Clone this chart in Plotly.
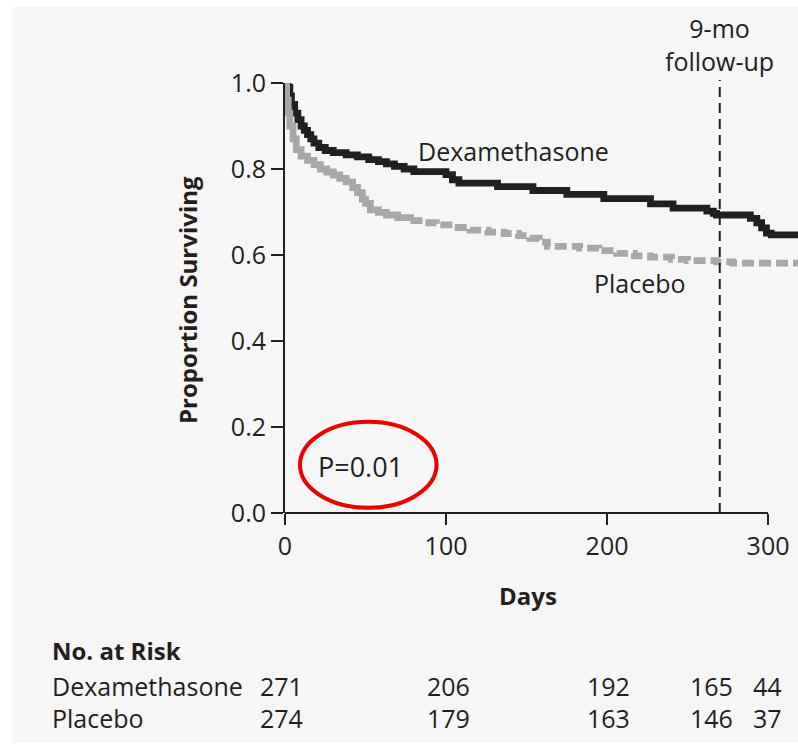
import plotly.graph_objects as go

# ---------------- data ----------------
dexa_days = [0, 2, 3, 4, 6, 8, 10, 12, 14, 16, 18, 21, 25, 30, 38, 45, 52, 58, 63, 68, 74, 80,
             100, 104, 108, 132, 154, 175, 198, 227, 241, 262, 266, 268, 289, 293, 296, 299, 302, 319]
dexa_surv = [1.0, 0.99, 0.97, 0.95, 0.93, 0.915, 0.90, 0.89, 0.88, 0.87, 0.86, 0.85, 0.843, 0.838,
             0.833, 0.828, 0.822, 0.817, 0.812, 0.806, 0.800, 0.794, 0.787, 0.775, 0.767, 0.759,
             0.750, 0.741, 0.731, 0.719, 0.709, 0.702, 0.697, 0.693, 0.685, 0.675, 0.663, 0.651,
             0.647, 0.647]

plac_days = [0, 1, 2, 3, 5, 7, 10, 14, 18, 22, 26, 30, 34, 38, 42, 45, 48, 50, 53, 58, 63, 70,
             78, 86, 94, 104, 115, 126, 136, 145, 152, 158, 163, 183, 195, 206, 217, 227, 240,
             250, 268, 278, 319]
plac_surv = [1.0, 0.96, 0.93, 0.90, 0.87, 0.845, 0.83, 0.82, 0.81, 0.80, 0.793, 0.786, 0.778,
             0.77, 0.757, 0.745, 0.73, 0.72, 0.705, 0.699, 0.693, 0.687, 0.680, 0.675, 0.670,
             0.664, 0.658, 0.653, 0.650, 0.645, 0.639, 0.630, 0.620, 0.616, 0.610, 0.604, 0.598,
             0.595, 0.590, 0.587, 0.584, 0.581, 0.581]
plac_dash_from = 78  # placebo curve drawn dashed from this day on

risk_days = [0, 100, 200, 270, 300]
risk_shift = [-4, 2, 1, -8, -1]
risk_dexa = [271, 206, 192, 165, 44]
risk_plac = [274, 179, 163, 146, 37]

y_ticks = [0.0, 0.2, 0.4, 0.6, 0.8, 1.0]
x_ticks = [0, 100, 200, 300]
followup_day = 270

# ---------------- layout geometry ----------------
W, H = 798, 745
L, R, T, B = 285, 0, 83, 232
PW, PH = W - L - R, H - T - B
XMAX = 318.6

def px(x):  # pixel -> paper x
    return (x - L) / PW

def py(y):  # pixel -> paper y
    return (H - B - y) / PH

INK = "#231f20"
GRAY = "#a7a8aa"
FONT = "Open Sans"

fig = go.Figure()

fig.add_trace(go.Scatter(x=dexa_days, y=dexa_surv, mode="lines", line_shape="hv",
                         line=dict(color=INK, width=6.8), cliponaxis=False, showlegend=False))

k = plac_days.index(plac_dash_from)
fig.add_trace(go.Scatter(x=plac_days[:k + 1], y=plac_surv[:k + 1], mode="lines", line_shape="hv",
                         line=dict(color=GRAY, width=6.8), cliponaxis=False, showlegend=False))
fig.add_trace(go.Scatter(x=plac_days[k:], y=plac_surv[k:], mode="lines", line_shape="hv",
                         line=dict(color=GRAY, width=6.8, dash="12px,5px"), cliponaxis=False,
                         showlegend=False))

shapes = [
    # light gray panel
    dict(type="rect", xref="paper", yref="paper", x0=px(12), x1=px(W + 5), y0=py(743), y1=py(7),
         fillcolor="#f6f6f6", line_width=0, layer="below"),
    # x axis line (stops at 300)
    dict(type="line", xref="x", yref="paper", x0=0, x1=x_ticks[-1], y0=0, y1=0,
         line=dict(color=INK, width=2)),
    # 9-month follow-up line
    dict(type="line", xref="x", yref="paper", x0=followup_day, x1=followup_day, y0=0, y1=py(80),
         line=dict(color=INK, width=2, dash="10px,6px")),
    # red ellipse
    dict(type="circle", xref="x", yref="y", x0=9.3, x1=94.1, y0=0.012, y1=0.212,
         line=dict(color="#ec0000", width=4)),
]

ann = []
def text(t, x, y, xref="paper", yref="paper", size=25, bold=False, xanchor="center",
         yanchor="middle", angle=0, xshift=0, align="center"):
    ann.append(dict(text=f"<b>{t}</b>" if bold else t, x=x, y=y, xref=xref, yref=yref,
                    showarrow=False, xanchor=xanchor, yanchor=yanchor, textangle=angle,
                    xshift=xshift, align=align,
                    font=dict(family=FONT, size=size, color=INK)))

text("Dexamethasone", 141.6, 0.842, "x", "y")
text("Placebo", 220.5, 0.535, "x", "y")
text("P=0.01", 46.6, 0.109, "x", "y", size=27)
text("9-mo<br>follow-up", followup_day, py(45), "x", "paper")
text("Proportion Surviving", px(187), py(300), bold=True, size=24, angle=-90)
text("Days", px(528), py(595), bold=True, size=24)
text("No. at Risk", px(50), py(650), bold=True, size=24, xanchor="left")
text("Dexamethasone", px(50), py(686), xanchor="left")
text("Placebo", px(50), py(718), xanchor="left")
for d, s, a, b in zip(risk_days, risk_shift, risk_dexa, risk_plac):
    text(str(a), d, py(686), "x", "paper", xshift=s)
    text(str(b), d, py(718), "x", "paper", xshift=s)

fig.update_layout(
    width=W, height=H, margin=dict(l=L, r=R, t=T, b=B, pad=0),
    paper_bgcolor="white", plot_bgcolor="rgba(0,0,0,0)",
    shapes=shapes, annotations=ann, showlegend=False,
    font=dict(family=FONT, size=25, color=INK),
    xaxis=dict(range=[0, XMAX], tickvals=x_ticks, ticktext=[str(v) for v in x_ticks],
               ticks="outside", ticklen=11, tickwidth=2, tickcolor=INK, showline=False,
               showgrid=False, zeroline=False, tickfont=dict(family=FONT, size=25, color=INK)),
    yaxis=dict(range=[0, 1.0], tickvals=y_ticks, ticktext=[f"{v:.1f}" for v in y_ticks],
               ticks="outside", ticklen=12, tickwidth=2, tickcolor=INK, showline=True,
               linecolor=INK, linewidth=2, showgrid=False, zeroline=False,
               tickfont=dict(family=FONT, size=25, color=INK)),
)

fig.write_html("out.html")
